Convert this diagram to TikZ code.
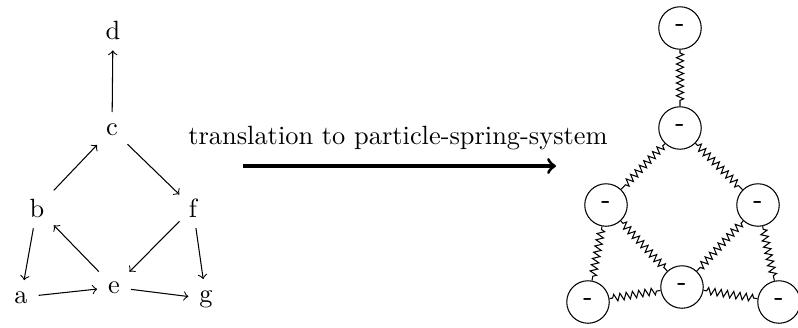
\documentclass[tikz,border=0pt]{standalone}
\usetikzlibrary{decorations.pathmorphing}
\begin{document}
\begin{tikzpicture}[x=0.379pt,y=-0.379pt,
  gnode/.style={inner sep=2pt,anchor=base},
  garrow/.style={->,shorten >=2pt,shorten <=2pt},
  particle/.style={circle,draw,minimum size=16.1pt,inner sep=0pt,font=\sffamily\bfseries},
  spring/.style={decorate,decoration={zigzag,segment length=2.4pt,amplitude=1.35pt,pre length=1.2pt,post length=1.2pt}}]
\useasboundingbox (0,0) rectangle (798,327);
% left graph
\node[gnode] (d) at (113,39) {d};
\node[gnode] (c) at (112,135) {c};
\node[gnode] (b) at (37,217) {b};
\node[gnode] (f) at (193,217) {f};
\node[gnode] (a) at (21,303) {a};
\node[gnode] (e) at (114,293) {e};
\node[gnode] (g) at (206,302) {g};
\draw[garrow] (c) -- (d);
\draw[garrow] (b) -- (c);
\draw[garrow] (c) -- (f);
\draw[garrow] (b) -- (a);
\draw[garrow] (e) -- (b);
\draw[garrow] (f) -- (e);
\draw[garrow] (f) -- (g);
\draw[garrow] (a) -- (e);
\draw[garrow] (e) -- (g);
% translation arrow
\node[anchor=base] (lbl) at (398,144) {translation to particle-spring-system};
\coordinate (s) at (243,166);
\coordinate (t) at (556,166);
\draw[->,very thick] (s) -- (t);
% particle-spring system
\node[particle] (pd) at (680,28) {-};
\node[particle] (pc) at (680,128) {-};
\node[particle] (pb) at (606,205) {-};
\node[particle] (pf) at (758,205) {-};
\node[particle] (pa) at (588,302) {-};
\node[particle] (pe) at (682,287) {-};
\node[particle] (pg) at (779,302) {-};
\draw[spring] (pd) -- (pc);
\draw[spring] (pc) -- (pb);
\draw[spring] (pc) -- (pf);
\draw[spring] (pb) -- (pa);
\draw[spring] (pb) -- (pe);
\draw[spring] (pf) -- (pe);
\draw[spring] (pf) -- (pg);
\draw[spring] (pa) -- (pe);
\draw[spring] (pe) -- (pg);
\end{tikzpicture}
\end{document}
